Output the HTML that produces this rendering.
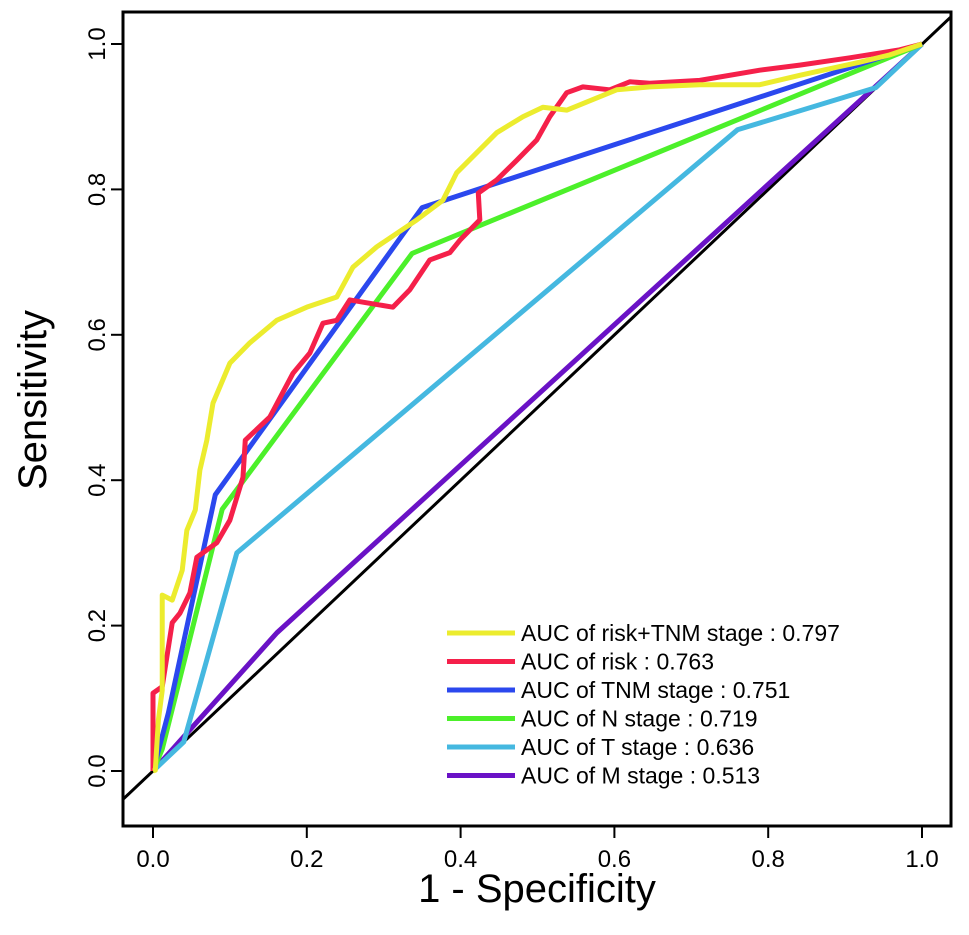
<!DOCTYPE html>
<html><head><meta charset="utf-8"><style>
body{margin:0;background:#fff}
svg text{font-family:"Liberation Sans",Arial,sans-serif;fill:#000}
</style></head><body>
<svg id="chart" width="969" height="930" viewBox="0 0 969 930" xmlns="http://www.w3.org/2000/svg">
<defs><clipPath id="clip"><rect x="123" y="12" width="828" height="814"/></clipPath></defs>
<rect x="123" y="12" width="828" height="814" fill="none" stroke="#000" stroke-width="3"/>
<line clip-path="url(#clip)" x1="110" y1="811.6" x2="960" y2="8.3" stroke="#000" stroke-width="3"/>
<g id="ticks"></g>
<g id="series"></g>
<g id="legend"></g>
<text x="537" y="902" font-size="40" text-anchor="middle">1 - Specificity</text>
<text x="0" y="0" font-size="40" text-anchor="middle" transform="translate(46,400) rotate(-90)">Sensitivity</text>
</svg>
<script>
const tickValues=[0,0.2,0.4,0.6,0.8,1.0];
const tickLabels=["0.0","0.2","0.4","0.6","0.8","1.0"];
const seriesNames=["AUC of risk+TNM stage : 0.797","AUC of risk : 0.763","AUC of TNM stage : 0.751","AUC of N stage : 0.719","AUC of T stage : 0.636","AUC of M stage : 0.513"];
const seriesColors=["#ecec2e","#f5204a","#2b48ee","#4cf02a","#45b8e0","#6a12c6"];
const riskTnmX=[0,0.003,0.007,0.012,0.012,0.025,0.038,0.044,0.055,0.061,0.07,0.078,0.1,0.126,0.161,0.2,0.239,0.26,0.291,0.343,0.377,0.395,0.447,0.481,0.507,0.538,0.603,0.646,0.711,0.789,0.841,0.919,0.958,1];
const riskTnmY=[0,0.001,0.07,0.111,0.242,0.235,0.276,0.331,0.359,0.414,0.455,0.506,0.561,0.589,0.62,0.638,0.652,0.693,0.721,0.758,0.785,0.823,0.878,0.9,0.913,0.909,0.937,0.941,0.944,0.944,0.957,0.975,0.985,1];
const riskX=[0,0,0.012,0.025,0.035,0.048,0.057,0.083,0.1,0.117,0.12,0.13,0.152,0.182,0.204,0.221,0.239,0.256,0.278,0.312,0.334,0.36,0.386,0.399,0.425,0.423,0.447,0.473,0.499,0.516,0.538,0.559,0.594,0.62,0.646,0.711,0.789,0.841,0.906,0.971,1];
const riskY=[0,0.107,0.116,0.204,0.217,0.245,0.294,0.314,0.345,0.404,0.455,0.465,0.487,0.547,0.575,0.616,0.62,0.648,0.644,0.638,0.662,0.703,0.713,0.73,0.758,0.795,0.813,0.84,0.868,0.9,0.933,0.941,0.937,0.948,0.946,0.95,0.964,0.971,0.981,0.992,1];
const tnmX=[0,0.02,0.081,0.35,1];
const tnmY=[0,0.08,0.38,0.775,1];
const nX=[0,0.012,0.09,0.337,1];
const nY=[0,0.03,0.36,0.712,1];
const tX=[0,0.04,0.109,0.76,0.94,1];
const tY=[0,0.04,0.30,0.882,0.94,1];
const mX=[0,0.161,1];
const mY=[0,0.19,1];
const NS="http://www.w3.org/2000/svg";
const sx=v=>153+v*769, sy=v=>771-v*727;
const tk=document.getElementById('ticks');
function mk(tag,attrs,parent){const e=document.createElementNS(NS,tag);for(const k in attrs)e.setAttribute(k,attrs[k]);parent.appendChild(e);return e;}
tickValues.forEach((v,i)=>{
  let l=mk('line',{x1:sx(v),x2:sx(v),y1:826,y2:838,stroke:'#000','stroke-width':2},tk);
  
  
  let t=mk('text',{x:sx(v),y:867,'font-size':24,'text-anchor':'middle'},tk);t.textContent=tickLabels[i];
  
  
  let l2=mk('line',{x1:111,x2:123,y1:sy(v),y2:sy(v),stroke:'#000','stroke-width':2},tk);
  
  
  let t2=mk('text',{x:0,y:0,'font-size':24,'text-anchor':'middle',transform:`translate(105,${sy(v)}) rotate(-90)`},tk);t2.textContent=tickLabels[i];
  
  
});
const sg=document.getElementById('series');
const all=[[riskTnmX,riskTnmY],[riskX,riskY],[tnmX,tnmY],[nX,nY],[tX,tY],[mX,mY]];
const names=['risk-tnm-curve','risk-curve','tnm-curve','n-stage-curve','t-stage-curve','m-stage-curve'];
for(let i=all.length-1;i>=0;i--){
  const [xs,ys]=all[i];
  const p=mk('polyline',{points:xs.map((x,j)=>sx(x)+','+sy(ys[j])).join(' '),fill:'none',stroke:seriesColors[i],'stroke-width':5,'stroke-linejoin':'round'},sg);
  
  
}
const lg=document.getElementById('legend');
seriesNames.forEach((n,i)=>{
  const y=633+i*28.5;
  const l=mk('line',{x1:447,x2:515,y1:y,y2:y,stroke:seriesColors[i],'stroke-width':5},lg);
  
  
  const t=mk('text',{x:521,y:y+8,'font-size':23},lg);t.textContent=n;
  
  
});
</script>
</body></html>
